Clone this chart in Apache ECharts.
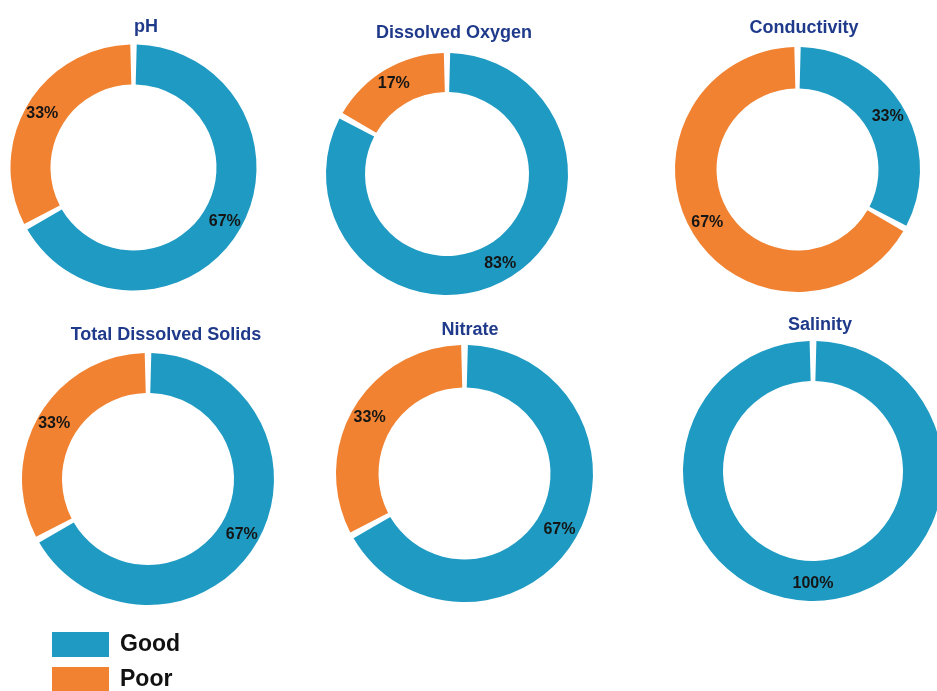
<!DOCTYPE html>
<html>
<head>
<meta charset="utf-8">
<script src="https://cdn.jsdelivr.net/npm/echarts@6/dist/echarts.min.js"></script>
<style>
html,body{margin:0;padding:0;background:#fff;}
#chart{width:937px;height:691px;}
</style>
</head>
<body>
<div id="chart"></div>
<script>
// ---- data ----
const parameters = ['pH', 'Dissolved Oxygen', 'Conductivity', 'Total Dissolved Solids', 'Nitrate', 'Salinity'];
const statusNames = ['Good', 'Poor'];
const goodPct = [67, 83, 33, 67, 67, 100];
const poorPct = [33, 17, 67, 33, 33, 0];

// ---- layout (positions / sizes) ----
const pieCenters = [[133.5, 167.5], [447, 174], [797.5, 169.5], [148, 479], [464.5, 473.5], [813, 471]];
const pieRadii = [[83, 123], [82, 121], [81, 122.5], [86, 126], [86, 128.5], [90, 130]];
const titlePos = [[146, 27], [454, 33], [804, 28], [166, 335], [470, 330], [820, 325]];

const colors = { Good: '#1F9AC2', Poor: '#F08232' };
const FONT = '"Liberation Sans", Arial, sans-serif';

const series = parameters.map((p, i) => {
  const vals = [goodPct[i], poorPct[i]];
  const data = statusNames.map((n, k) => ({ name: n, value: vals[k], itemStyle: { color: colors[n] } }))
    .filter(d => d.value > 0);
  return {
    type: 'pie',
    name: p,
    center: pieCenters[i],
    radius: pieRadii[i],
    startAngle: 90,
    clockwise: true,
    padAngle: 3,
    avoidLabelOverlap: false,
    emphasis: { disabled: true },
    label: {
      show: true,
      position: 'inside',
      formatter: (q) => q.value + '%',
      color: '#151515',
      fontSize: 16,
      fontWeight: 'bold',
      fontFamily: FONT
    },
    labelLine: { show: false },
    data: data
  };
});

const graphics = parameters.map((p, i) => ({
  type: 'text',
  x: titlePos[i][0],
  y: titlePos[i][1],
  style: {
    text: p,
    textAlign: 'center',
    textVerticalAlign: 'middle',
    fill: '#1F3A8A',
    font: 'bold 18px ' + FONT
  }
}));

const chart = echarts.init(document.getElementById('chart'), null, { renderer: 'canvas' });
chart.setOption({
  animation: false,
  backgroundColor: '#ffffff',
  legend: {
    orient: 'vertical',
    left: 47,
    top: 627,
    height: 90,
    itemWidth: 57,
    itemHeight: 25,
    itemGap: 10,
    icon: 'rect',
    data: statusNames,
    textStyle: { fontSize: 23, fontWeight: 'bold', color: '#111', fontFamily: FONT, padding: [0, 0, 0, 6] }
  },
  graphic: graphics,
  series: series
});
</script>
</body>
</html>
